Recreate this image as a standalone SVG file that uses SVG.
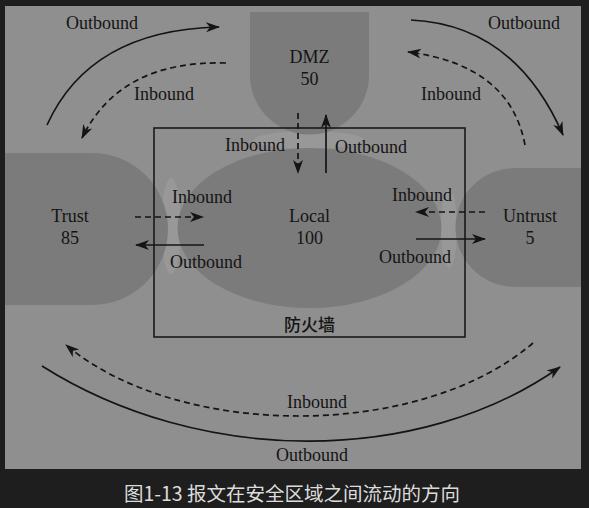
<svg xmlns="http://www.w3.org/2000/svg" width="589" height="508" viewBox="0 0 589 508">
<style>
.zone{fill:#7b7b7b}
.lbl{font-family:"Liberation Serif","Times New Roman",serif;font-size:18px;fill:#141414;text-anchor:middle}
.solid{fill:none;stroke:#141414;stroke-width:1.7}
.dash{fill:none;stroke:#141414;stroke-width:1.7;stroke-dasharray:6,4}
.glow{fill:#989898}
</style>
<defs>
<marker id="ah" markerUnits="userSpaceOnUse" markerWidth="14" markerHeight="12" refX="13" refY="5" orient="auto" viewBox="0 0 14 10">
<path d="M0,0 L14,5 L0,10 L4,5 Z" fill="#141414"/>
</marker>
</defs>
<rect x="0" y="0" width="589" height="508" fill="#1e1e1e"/>
<rect x="5" y="6" width="576" height="463" fill="#8f8f8f"/>
<g id="gaps">
<ellipse class="glow" cx="171" cy="226" rx="10" ry="48"/>
<ellipse class="glow" cx="309" cy="140" rx="55" ry="9"/>
<ellipse class="glow" cx="449" cy="228" rx="8" ry="40"/>
</g>
<g id="dmz">
<path class="zone" d="M250,12 L369,12 L369,75 A59.5,59.5 0 0 1 250,75 Z"/>
<text class="lbl" x="309.5" y="63">DMZ</text>
<text class="lbl" x="309.5" y="85">50</text>
</g>
<g id="trust">
<path class="zone" d="M5,153 L92,153 A76,76 0 0 1 92,305 L5,305 Z"/>
<text class="lbl" x="70" y="222">Trust</text>
<text class="lbl" x="70" y="244">85</text>
</g>
<g id="untrust">
<path class="zone" d="M581,168 L515,168 A59.5,59.5 0 0 0 515,287 L581,287 Z"/>
<text class="lbl" x="530" y="222">Untrust</text>
<text class="lbl" x="530" y="244">5</text>
</g>
<g id="local">
<ellipse class="zone" cx="309.5" cy="228" rx="132" ry="80"/>
<text class="lbl" x="309.5" y="222">Local</text>
<text class="lbl" x="309.5" y="244">100</text>
</g>
<g id="firewall">
<rect x="154" y="128" width="311" height="209" fill="none" stroke="#1a1a1a" stroke-width="1.6"/>
<text x="309.5" y="331" font-family="'Noto Sans CJK SC',sans-serif" font-size="17" font-weight="500" fill="#141414" text-anchor="middle">防火墙</text>
</g>
<g id="connectors">
<path class="solid" d="M47,125 Q90,30 219,27" marker-end="url(#ah)"/>
<path class="dash" d="M226,63 Q120,60 82,138" marker-end="url(#ah)"/>
<path class="solid" d="M411,20 Q515,25 563,135" marker-end="url(#ah)"/>
<path class="dash" d="M525,145 Q510,65 408,52" marker-end="url(#ah)"/>
<path class="dash" d="M298,113 L298,173" marker-end="url(#ah)"/>
<path class="solid" d="M326,173 L326,115" marker-end="url(#ah)"/>
<path class="dash" d="M135,217 L203,217" marker-end="url(#ah)"/>
<path class="solid" d="M204,245 L136,245" marker-end="url(#ah)"/>
<path class="dash" d="M485,212 L416,212" marker-end="url(#ah)"/>
<path class="solid" d="M416,239 L485,239" marker-end="url(#ah)"/>
<path class="dash" d="M533,343 C420,440 180,440 66,345" marker-end="url(#ah)"/>
<path class="solid" d="M42,366 C200,466 420,466 560,367" marker-end="url(#ah)"/>
</g>
<g id="labels">
<text class="lbl" x="102" y="29">Outbound</text>
<text class="lbl" x="164" y="100">Inbound</text>
<text class="lbl" x="524" y="29">Outbound</text>
<text class="lbl" x="451" y="100">Inbound</text>
<text class="lbl" x="255" y="151">Inbound</text>
<text class="lbl" x="371" y="153">Outbound</text>
<text class="lbl" x="202" y="203">Inbound</text>
<text class="lbl" x="206" y="268">Outbound</text>
<text class="lbl" x="422" y="201">Inbound</text>
<text class="lbl" x="415" y="263">Outbound</text>
<text class="lbl" x="317" y="408">Inbound</text>
<text class="lbl" x="312" y="461">Outbound</text>
</g>
<text x="292" y="501" font-family="'Noto Sans CJK SC',sans-serif" font-size="19.5" fill="#dcdcdc" text-anchor="middle">图1-13 报文在安全区域之间流动的方向</text>
</svg>
